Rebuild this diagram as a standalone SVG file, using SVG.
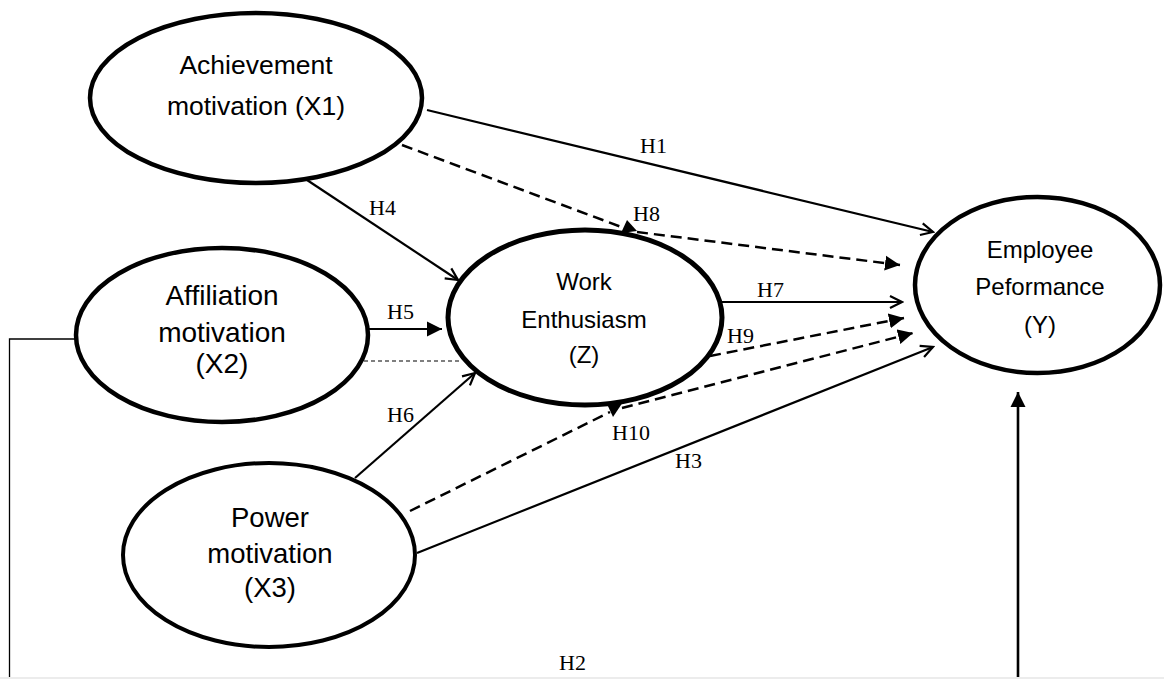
<svg xmlns="http://www.w3.org/2000/svg" width="1164" height="679" viewBox="0 0 1164 679">
<style>
.node{fill:#fff;stroke:#000}
.lbl{font-family:"Liberation Sans",Arial,sans-serif;fill:#000;text-anchor:middle}
.h{font-family:"Liberation Serif","Times New Roman",serif;font-size:22px;fill:#000}
.solid{stroke:#000;stroke-width:2.2;fill:none}
.dash{stroke:#000;stroke-width:2.5;fill:none;stroke-dasharray:11 6}
</style>
<defs>
<marker id="open" markerUnits="userSpaceOnUse" markerWidth="16" markerHeight="16" viewBox="0 0 16 16" refX="14" refY="8" orient="auto">
<path d="M2,2 L14,8 L2,14" fill="none" stroke="#000" stroke-width="2.2"/>
</marker>
<marker id="fill" markerUnits="userSpaceOnUse" markerWidth="16" markerHeight="16" viewBox="0 0 16 16" refX="15" refY="8" orient="auto">
<path d="M0,0.5 L15,8 L0,15.5 Z" fill="#000"/>
</marker>
</defs>
<rect x="0" y="0" width="1164" height="679" fill="#fff"/>
<rect x="0" y="677" width="1164" height="2" fill="#ececec"/>
<g id="connectors">
<line class="solid" x1="427" y1="110" x2="933" y2="232" marker-end="url(#open)"/>
<line class="solid" x1="307" y1="180" x2="458" y2="280" stroke-width="2" marker-end="url(#open)"/>
<line class="solid" x1="355" y1="478" x2="475" y2="373" stroke-width="2" marker-end="url(#open)"/>
<line class="solid" x1="720" y1="302" x2="902" y2="302" marker-end="url(#open)"/>
<line class="solid" x1="417" y1="553" x2="933" y2="347" marker-end="url(#open)"/>
<line class="solid" x1="368" y1="329" x2="442" y2="329" stroke-width="3.2" marker-end="url(#fill)"/>
<line class="dash" x1="402" y1="145" x2="624" y2="228"/>
<polygon points="627,220 621,233 637,231" fill="#000"/>
<line class="dash" x1="637" y1="232" x2="900" y2="265" marker-end="url(#fill)"/>
<line class="dash" x1="710" y1="356" x2="904" y2="318" marker-end="url(#fill)"/>
<line class="dash" x1="410" y1="511" x2="610" y2="412"/>
<polygon points="607,404 623,402 613,417" fill="#000"/>
<line class="dash" x1="622" y1="408" x2="913" y2="333" marker-end="url(#fill)"/>
<line x1="364" y1="361" x2="460" y2="361" stroke="#000" stroke-width="1.2" stroke-dasharray="4 3"/>
<polyline points="77,339 9.5,339 9.5,677" fill="none" stroke="#000" stroke-width="1.3"/>
<line x1="1018" y1="677" x2="1018" y2="392" stroke="#000" stroke-width="2.6" marker-end="url(#fill)"/>
<text class="h" x="640" y="153">H1</text>
<text class="h" x="633" y="221">H8</text>
<text class="h" x="369" y="215">H4</text>
<text class="h" x="387" y="319">H5</text>
<text class="h" x="387" y="422">H6</text>
<text class="h" x="757" y="297">H7</text>
<text class="h" x="727" y="343">H9</text>
<text class="h" x="612" y="440">H10</text>
<text class="h" x="675" y="468">H3</text>
<text class="h" x="559" y="670">H2</text>
</g>
<g id="X1">
<ellipse class="node" cx="256" cy="98" rx="166" ry="85" stroke-width="4.5"/>
<text class="lbl" x="256" y="74" font-size="26.5">Achievement</text>
<text class="lbl" x="256" y="115" font-size="26.5">motivation (X1)</text>
</g>
<g id="X2">
<ellipse class="node" cx="222" cy="335" rx="146" ry="87" stroke-width="4.5"/>
<text class="lbl" x="222" y="305" font-size="28">Affiliation</text>
<text class="lbl" x="222" y="342" font-size="28">motivation</text>
<text class="lbl" x="222" y="373" font-size="28">(X2)</text>
</g>
<g id="X3">
<ellipse class="node" cx="269" cy="555" rx="146" ry="92" stroke-width="4"/>
<text class="lbl" x="270" y="527" font-size="27.5">Power</text>
<text class="lbl" x="270" y="563" font-size="27.5">motivation</text>
<text class="lbl" x="270" y="597" font-size="27.5">(X3)</text>
</g>
<g id="Z">
<ellipse class="node" cx="585" cy="317.5" rx="137" ry="87.5" stroke-width="5"/>
<text class="lbl" x="584" y="290" font-size="24">Work</text>
<text class="lbl" x="584" y="328" font-size="24">Enthusiasm</text>
<text class="lbl" x="584" y="363" font-size="24">(Z)</text>
</g>
<g id="Y">
<ellipse class="node" cx="1037.5" cy="285" rx="122.5" ry="88" stroke-width="4.5"/>
<text class="lbl" x="1040" y="258" font-size="24">Employee</text>
<text class="lbl" x="1040" y="295" font-size="24">Peformance</text>
<text class="lbl" x="1040" y="333" font-size="24">(Y)</text>
</g>
</svg>
